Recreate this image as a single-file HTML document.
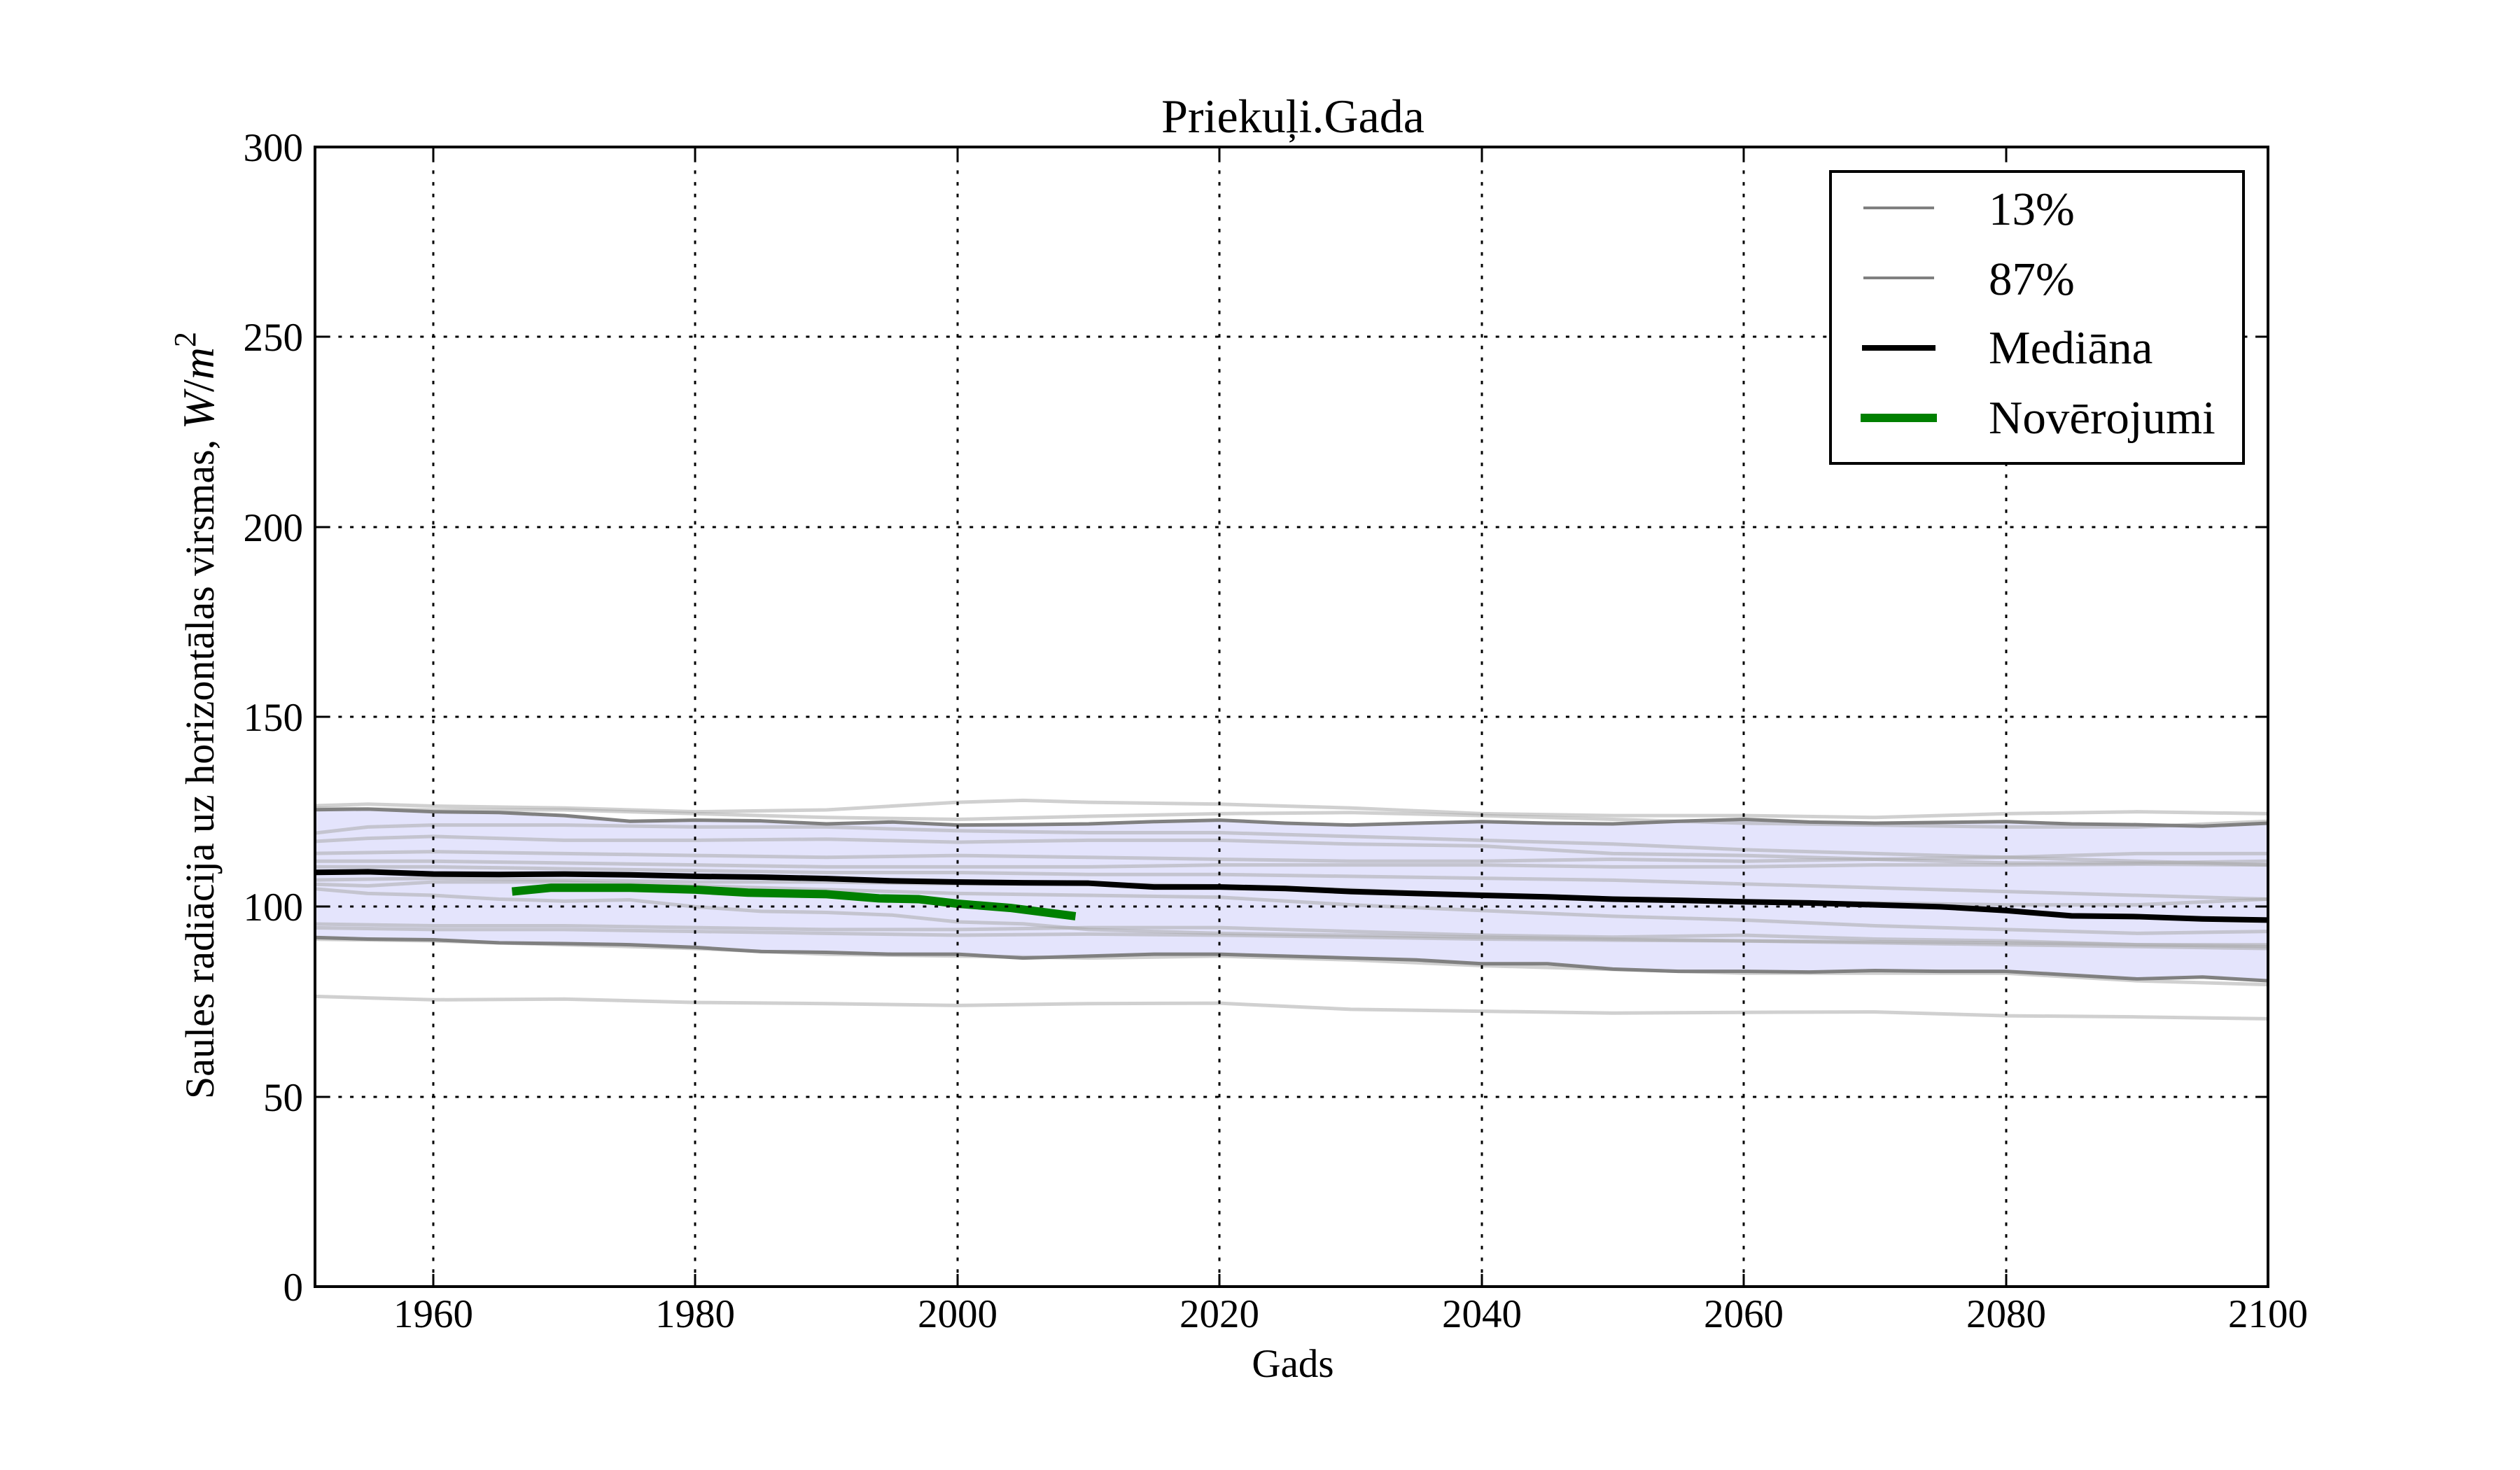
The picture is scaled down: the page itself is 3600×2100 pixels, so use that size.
<!DOCTYPE html>
<html><head><meta charset="utf-8"><style>
html,body{margin:0;padding:0;background:#fff}
svg{display:block}
text{font-family:"Liberation Serif",serif;fill:#000}
</style></head><body>
<svg width="3600" height="2100" viewBox="0 0 3600 2100" xmlns="http://www.w3.org/2000/svg">
<defs><clipPath id="c"><rect x="450" y="210" width="2790" height="1628"/></clipPath></defs>
<rect width="3600" height="2100" fill="#fff"/>
<g clip-path="url(#c)">
<g transform="translate(3240,1838) scale(18.72,-5.4267) translate(-2100,0)" fill="none" stroke-linejoin="round">
<path d="M1950,125.5 L1955,125.7 L1960,125 L1965,124.8 L1970,124 L1975,122.5 L1980,122.8 L1985,122.6 L1990,121.8 L1995,122.3 L2000,121.5 L2005,121.6 L2010,121.8 L2015,122.4 L2020,122.8 L2025,122 L2030,121.5 L2035,122 L2040,122.4 L2045,122 L2050,121.8 L2055,122.5 L2060,123 L2065,122.3 L2070,122 L2075,122.2 L2080,122.4 L2085,121.8 L2090,121.6 L2095,121.2 L2100,122 L2100,80.5 L2095,81.5 L2090,81 L2085,82 L2080,83 L2075,83 L2070,83.2 L2065,82.8 L2060,83 L2055,83 L2050,83.6 L2045,85 L2040,85 L2035,86 L2030,86.5 L2025,87 L2020,87.5 L2015,87.5 L2010,87 L2005,86.5 L2000,87.5 L1995,87.5 L1990,88 L1985,88.2 L1980,89.3 L1975,90 L1970,90.3 L1965,90.5 L1960,91.3 L1955,91.5 L1950,92 Z" fill="#e4e4fc" stroke="none"/>
<g stroke="#aaa" stroke-opacity="0.55" stroke-width="5">
<path vector-effect="non-scaling-stroke" d="M1950,76.5 L1955,76 L1960,75.5 L1970,75.7 L1980,74.8 L1990,74.5 L2000,74 L2010,74.5 L2020,74.6 L2030,73 L2040,72.5 L2050,72 L2060,72.2 L2070,72.3 L2080,71.3 L2090,71 L2100,70.5"/>
<path vector-effect="non-scaling-stroke" d="M1950,126.5 L1955,127 L1960,126.5 L1970,126 L1980,125 L1990,125.5 L2000,127.5 L2005,128 L2010,127.5 L2020,127 L2030,126 L2040,124.5 L2050,124 L2060,124 L2070,123.5 L2080,124.5 L2090,125 L2100,124.5"/>
<path vector-effect="non-scaling-stroke" d="M1950,126 L1960,125.5 L1970,125.5 L1980,124.5 L1990,123.5 L2000,123 L2010,123.8 L2020,124.5 L2030,124.8 L2040,124 L2050,123 L2060,122 L2070,121.5 L2080,121 L2090,121 L2100,122.5"/>
<path vector-effect="non-scaling-stroke" d="M1950,119 L1955,121 L1960,121.5 L1970,121.5 L1980,121 L1990,121 L2000,120 L2010,119.5 L2020,119.5 L2030,118.5 L2040,117.5 L2050,116.5 L2060,115 L2070,114 L2080,113 L2090,112 L2100,111"/>
<path vector-effect="non-scaling-stroke" d="M1950,117 L1955,118 L1960,118.5 L1970,117.5 L1980,117.5 L1990,117.8 L2000,117 L2010,117.5 L2020,117.5 L2030,116.5 L2040,116 L2050,114 L2060,113.5 L2070,112.5 L2080,111.5 L2090,111.5 L2100,112"/>
<path vector-effect="non-scaling-stroke" d="M1950,114 L1960,114.5 L1970,114 L1980,113.5 L1990,113 L2000,113.5 L2010,113 L2020,112.5 L2030,112 L2040,112 L2050,112.5 L2060,112 L2070,112.5 L2080,113 L2090,114 L2100,114"/>
<path vector-effect="non-scaling-stroke" d="M1950,112 L1960,112 L1970,111.5 L1980,111 L1990,110.5 L2000,110.5 L2010,110.5 L2020,111 L2030,111 L2040,111 L2050,110.5 L2060,110.5 L2070,111 L2080,111 L2090,111.2 L2100,111"/>
<path vector-effect="non-scaling-stroke" d="M1950,110.5 L1960,110.5 L1970,110 L1980,109.5 L1990,109 L2000,109 L2010,108.5 L2020,108.5 L2030,108 L2040,107.5 L2050,107 L2060,106 L2070,105 L2080,104 L2090,103 L2100,102"/>
<path vector-effect="non-scaling-stroke" d="M1950,107 L1960,107.5 L1970,107 L1980,106.5 L1990,106.5 L2000,106 L2010,106 L2020,105.5 L2030,104.5 L2040,103 L2050,102 L2060,101 L2070,101 L2080,100.5 L2090,100.5 L2100,102"/>
<path vector-effect="non-scaling-stroke" d="M1950,106 L1955,105.5 L1960,106.5 L1970,106.5 L1980,105.5 L1990,104.5 L2000,103.5 L2010,103 L2020,102.5 L2030,100.5 L2040,99 L2050,97.5 L2060,96.5 L2070,95 L2080,94 L2090,93 L2100,93.5"/>
<path vector-effect="non-scaling-stroke" d="M1950,105 L1955,103.5 L1960,103 L1965,102 L1970,101.5 L1975,101.8 L1980,100 L1985,98.8 L1990,98.5 L1995,97.8 L2000,96 L2005,95.5 L2010,94 L2020,93 L2030,92.5 L2040,92 L2050,91.5 L2060,91 L2070,90.8 L2080,90.5 L2090,90 L2100,89.5"/>
<path vector-effect="non-scaling-stroke" d="M1950,95.5 L1960,95 L1970,95 L1980,94.5 L1990,94 L2000,94 L2010,94.5 L2020,94.5 L2030,93.5 L2040,92.5 L2050,92 L2060,92.5 L2070,91.5 L2080,91 L2090,90 L2100,90"/>
<path vector-effect="non-scaling-stroke" d="M1950,94.5 L1960,94 L1970,94 L1980,93.5 L1990,93 L2000,92.5 L2010,92.8 L2020,92.5 L2030,92 L2040,91.5 L2050,91.2 L2060,91 L2070,90.5 L2080,90 L2090,89.5 L2100,89"/>
<path vector-effect="non-scaling-stroke" d="M1950,91.5 L1960,91 L1970,90 L1980,89 L1990,87.5 L2000,87 L2010,86.5 L2020,87 L2030,86 L2040,84.5 L2050,83.5 L2060,82.5 L2070,82.5 L2080,82.5 L2090,80.5 L2100,79.5"/>
</g>
<path vector-effect="non-scaling-stroke" stroke="#808080" stroke-width="5" d="M1950,125.5 L1955,125.7 L1960,125 L1965,124.8 L1970,124 L1975,122.5 L1980,122.8 L1985,122.6 L1990,121.8 L1995,122.3 L2000,121.5 L2005,121.6 L2010,121.8 L2015,122.4 L2020,122.8 L2025,122 L2030,121.5 L2035,122 L2040,122.4 L2045,122 L2050,121.8 L2055,122.5 L2060,123 L2065,122.3 L2070,122 L2075,122.2 L2080,122.4 L2085,121.8 L2090,121.6 L2095,121.2 L2100,122"/>
<path vector-effect="non-scaling-stroke" stroke="#808080" stroke-width="5" d="M2100,80.5 L2095,81.5 L2090,81 L2085,82 L2080,83 L2075,83 L2070,83.2 L2065,82.8 L2060,83 L2055,83 L2050,83.6 L2045,85 L2040,85 L2035,86 L2030,86.5 L2025,87 L2020,87.5 L2015,87.5 L2010,87 L2005,86.5 L2000,87.5 L1995,87.5 L1990,88 L1985,88.2 L1980,89.3 L1975,90 L1970,90.3 L1965,90.5 L1960,91.3 L1955,91.5 L1950,92"/>
<path vector-effect="non-scaling-stroke" stroke="#000" stroke-width="8" d="M1950,109 L1955,109.2 L1960,108.6 L1965,108.5 L1970,108.6 L1975,108.4 L1980,108 L1985,107.8 L1990,107.4 L1995,106.8 L2000,106.5 L2005,106.3 L2010,106.2 L2015,105.2 L2020,105.2 L2025,104.8 L2030,104 L2035,103.5 L2040,103 L2045,102.6 L2050,102 L2055,101.7 L2060,101.3 L2065,101 L2070,100.5 L2075,100 L2080,99 L2085,97.6 L2090,97.4 L2095,96.8 L2100,96.5"/>
<path vector-effect="non-scaling-stroke" stroke="#008000" stroke-width="12" d="M1966,104 L1969,105 L1975,105 L1980,104.5 L1984,103.7 L1990,103.3 L1994,102.2 L1997,102 L2000,100.8 L2004,99.7 L2009,97.5"/>
</g>
</g>
<g stroke="#000" stroke-width="3" stroke-dasharray="5,11.7">
<path d="M619,210V1838 M993,210V1838 M1368,210V1838 M1742,210V1838 M2117,210V1838 M2491,210V1838 M2866,210V1838"/>
<path d="M450,1567H3240 M450,1295H3240 M450,1024H3240 M450,753H3240 M450,481H3240"/>
</g>
<g stroke="#000" stroke-width="3">
<path d="M619,1838v-18 M993,1838v-18 M1368,1838v-18 M1742,1838v-18 M2117,1838v-18 M2491,1838v-18 M2866,1838v-18 M619,210v18 M993,210v18 M1368,210v18 M1742,210v18 M2117,210v18 M2491,210v18 M2866,210v18"/>
<path d="M450,1567h18 M450,1295h18 M450,1024h18 M450,753h18 M450,481h18 M3240,1567h-18 M3240,1295h-18 M3240,1024h-18 M3240,753h-18 M3240,481h-18"/>
</g>
<rect x="450" y="210" width="2790" height="1628" fill="none" stroke="#000" stroke-width="4"/>
<g font-size="57" text-anchor="middle">
<text x="619" y="1896">1960</text><text x="993" y="1896">1980</text><text x="1368" y="1896">2000</text><text x="1742" y="1896">2020</text><text x="2117" y="1896">2040</text><text x="2491" y="1896">2060</text><text x="2866" y="1896">2080</text><text x="3240" y="1896">2100</text>
</g>
<g font-size="57" text-anchor="end">
<text x="433" y="1858">0</text><text x="433" y="1587">50</text><text x="433" y="1315">100</text><text x="433" y="1044">150</text><text x="433" y="773">200</text><text x="433" y="501">250</text><text x="433" y="230">300</text>
</g>
<text x="1847" y="189" font-size="68" text-anchor="middle">Priekuļi.Gada</text>
<text x="1847" y="1967" font-size="57" text-anchor="middle">Gads</text>
<text transform="translate(305,1022) rotate(-90)" font-size="58" text-anchor="middle">Saules radiācija uz horizontālas virsmas, <tspan font-style="italic" font-size="64">W</tspan><tspan font-size="64">/</tspan><tspan font-style="italic" font-size="64">m</tspan><tspan font-size="44" dy="-26">2</tspan></text>
<rect x="2615" y="245" width="590" height="417" fill="#fff" stroke="#000" stroke-width="4"/>
<path d="M2662,297H2763" stroke="#808080" stroke-width="4"/>
<path d="M2662,397H2763" stroke="#808080" stroke-width="4"/>
<path d="M2660,497H2765" stroke="#000" stroke-width="8"/>
<path d="M2658,597H2767" stroke="#008000" stroke-width="12"/>
<g font-size="67">
<text x="2841" y="321">13%</text><text x="2841" y="421">87%</text><text x="2841" y="519">Mediāna</text><text x="2841" y="619">Novērojumi</text>
</g>
</svg>
</body></html>
